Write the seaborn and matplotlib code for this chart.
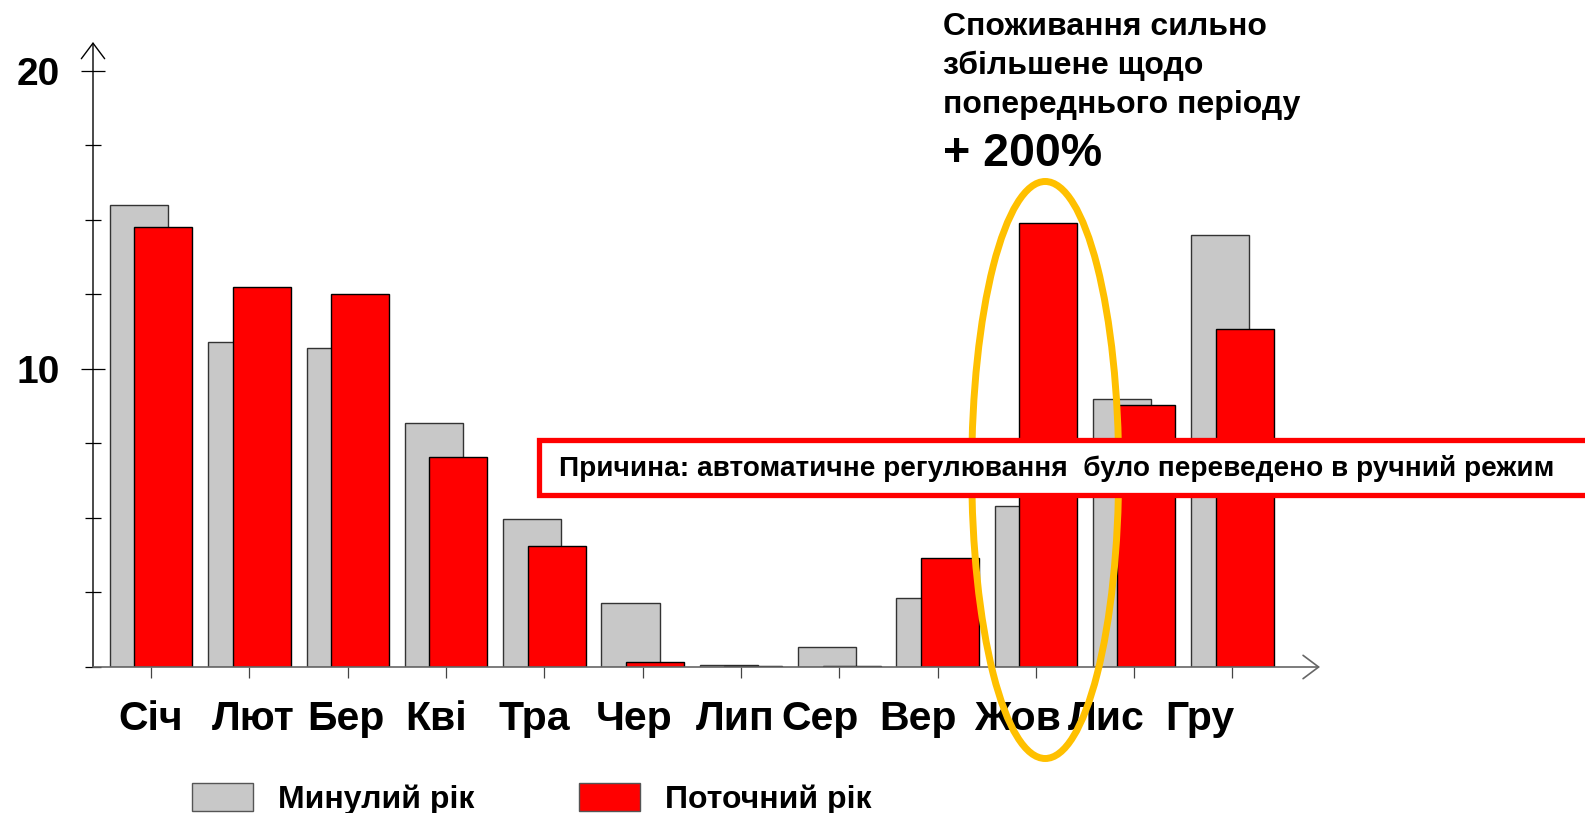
import numpy as np
import pandas as pd
import matplotlib
matplotlib.use('Agg')
import matplotlib.pyplot as plt
import seaborn as sns
from matplotlib.patches import Ellipse, Rectangle, Patch
from matplotlib.ticker import MultipleLocator, FixedLocator
from matplotlib.transforms import ScaledTranslation

# Дані
months = ['Січ', 'Лют', 'Бер', 'Кві', 'Тра', 'Чер', 'Лип', 'Сер', 'Вер', 'Жов', 'Лис', 'Гру']
prev_year = [15.5, 10.9, 10.7, 8.2, 4.95, 2.15, 0.07, 0.68, 2.3, 5.4, 8.98, 14.5]
curr_year = [14.75, 12.75, 12.5, 7.05, 4.07, 0.17, 0.03, 0.02, 3.66, 14.9, 8.78, 11.35]
legend_labels = ['Минулий рік', 'Поточний рік']
note_lines = ['Споживання сильно', 'збільшене щодо', 'попереднього періоду']
note_pct = '+ 200%'
reason_text = 'Причина: автоматичне регулювання  було переведено в ручний режим'

# підписи місяців у оригіналі трохи зсунуті відносно тиків (пікселі)
label_nudge_px = [0, 4, -2, -10, -10, -8, -6, -19, -20, -18, -28, -33]

grey = '#C8C8C8'
red = '#FF0000'

sns.set_style('white')
plt.rcParams['font.family'] = ['Liberation Sans', 'DejaVu Sans']
plt.rcParams['font.weight'] = 'bold'
plt.rcParams['text.color'] = 'black'
plt.rcParams['xtick.color'] = 'black'
plt.rcParams['ytick.color'] = 'black'

W, H = 1585, 813
fig = plt.figure(figsize=(W / 100, H / 100), dpi=100)
ax = fig.add_axes([93 / W, 1 - 667 / H, (1320 - 93) / W, (667 - 42) / H])

pos = np.arange(len(months))
df_prev = pd.DataFrame({'x': pos - 0.123, 'y': prev_year})
df_curr = pd.DataFrame({'x': pos + 0.125, 'y': curr_year})

sns.barplot(data=df_prev, x='x', y='y', native_scale=True, width=0.59,
            color=grey, saturation=1, edgecolor='#333333', linewidth=1,
            errorbar=None, ax=ax)
sns.barplot(data=df_curr, x='x', y='y', native_scale=True, width=0.59,
            color=red, saturation=1, edgecolor='black', linewidth=1,
            errorbar=None, ax=ax)

ax.set_xlim(-0.59, 11.89)
ax.set_ylim(0, 20.97)
ax.set_xlabel('')
ax.set_ylabel('')
for s in ax.spines.values():
    s.set_visible(False)

# осі зі стрілками
arrow = '->, head_length=0.4, head_width=0.3'
ax.annotate('', xy=(0, 1), xytext=(0, 0), xycoords='axes fraction',
            arrowprops=dict(arrowstyle=arrow, lw=1, color='black',
                            mutation_scale=28, shrinkA=0, shrinkB=0))
ax.annotate('', xy=(1, 0), xytext=(0, 0), xycoords='axes fraction',
            arrowprops=dict(arrowstyle=arrow, lw=1.2, color='#666666',
                            mutation_scale=28, shrinkA=0, shrinkB=0))

# тики
ax.xaxis.set_major_locator(FixedLocator(pos))
ax.set_xticklabels(months, fontsize=29.5, fontweight='bold', color='black')
ax.tick_params(axis='x', direction='out', length=8, width=0.9,
               color='#444444', pad=16, bottom=True)
for lab, dx in zip(ax.get_xticklabels(), label_nudge_px):
    lab.set_transform(lab.get_transform() +
                      ScaledTranslation(dx / 100, 0, fig.dpi_scale_trans))
ax.yaxis.set_major_locator(FixedLocator([10, 20]))
ax.yaxis.set_minor_locator(MultipleLocator(2.5))
ax.set_yticklabels(['10', '20'], fontsize=28, fontweight='bold', color='black')
ax.tick_params(axis='y', which='major', direction='inout', length=17,
               width=0.9, color='black', pad=15, left=True)
ax.tick_params(axis='y', which='minor', direction='inout', length=11,
               width=0.9, color='black', left=True)

# жовтий овал навколо жовтня
ax.add_patch(Ellipse((9.095, 6.61), 1.495, 19.36, fill=False,
                     edgecolor='#FFC000', linewidth=5, clip_on=False,
                     zorder=10))

# пояснення праворуч угорі
for i, line in enumerate(note_lines):
    fig.text(943 / W, 1 - (35 + 39 * i) / H, line, fontsize=23,
             fontweight='bold', va='baseline', ha='left', color='black')
fig.text(943 / W, 1 - 166 / H, note_pct, fontsize=33.5, fontweight='bold',
         va='baseline', ha='left', color='black')

# червона рамка з причиною
box = Rectangle((539 / W, 1 - 495 / H), (1610 - 539) / W, 55 / H,
                transform=fig.transFigure, facecolor='white',
                edgecolor=red, linewidth=3.8, zorder=20)
fig.add_artist(box)
fig.text(559 / W, 1 - 468 / H, reason_text, fontsize=20.2,
         fontweight='bold', va='center', ha='left', color='black', zorder=21)

# легенда
handles = [Patch(facecolor=grey, edgecolor='#555555', linewidth=1),
           Patch(facecolor=red, edgecolor='#555555', linewidth=1)]
fig.legend(handles=handles, labels=legend_labels, ncol=2, frameon=False,
           loc='center left', bbox_to_anchor=(192 / W, 1 - 799 / H),
           prop={'size': 23, 'weight': 'bold'}, handlelength=1.9,
           handleheight=0.95, handletextpad=0.78, columnspacing=3.3,
           borderpad=0, borderaxespad=0)

fig.savefig('out.png', dpi=100)
